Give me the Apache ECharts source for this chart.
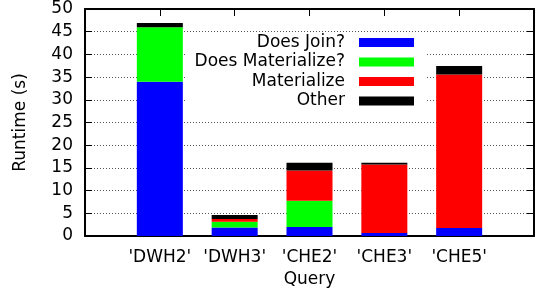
<!DOCTYPE html>
<html>
<head>
<meta charset="utf-8">
<script src="https://cdn.jsdelivr.net/npm/echarts@6/dist/echarts.min.js"></script>
<style>
  html, body { margin: 0; padding: 0; background: #fff; }
  #chart { width: 537px; height: 297px; }
</style>
</head>
<body>
<div id="chart"></div>
<script>
// queries on the x axis
const queries = ["'DWH2'", "'DWH3'", "'CHE2'", "'CHE3'", "'CHE5'"];

// runtime parts in seconds, stacked bottom to top
const doesJoin        = [34.0, 1.85, 2.0, 0.66, 1.77];
const doesMaterialize = [12.0, 1.3, 5.74, 0, 0];
const materialize     = [0, 0.6, 6.7, 15.1, 33.8];
const other           = [0.9, 0.9, 1.7, 0.35, 1.9];

const yTicks = { min: 0, max: 50, step: 5 };

const font = 'DejaVu Sans';
const txt = { fontFamily: font, fontSize: 17, color: '#000' };

const chart = echarts.init(document.getElementById('chart'));

// gnuplot leaves one empty slot on each side of the bars
const cats = ['', ...queries, ''];
const pad = arr => [null, ...arr, null];

const mkSeries = (name, arr, color) => ({
    name,
    type: 'bar',
    stack: 'total',
    data: pad(arr),
    barWidth: 46,
    itemStyle: { color },
    z: 3
});

const frameLine = { show: true, onZero: false, lineStyle: { color: '#000', width: 2 } };
const frameTick = { show: true, inside: true, length: 7, lineStyle: { color: '#000' } };

const option = {
    animation: false,
    backgroundColor: '#fff',
    textStyle: { fontFamily: font },
    grid: { left: 85, right: -1, top: 9, bottom: 61, containLabel: false },
    xAxis: [
        {
            type: 'category',
            data: cats,
            boundaryGap: false,
            position: 'bottom',
            name: 'Query',
            nameLocation: 'middle',
            nameGap: 35,
            nameTextStyle: txt,
            axisLine: frameLine,
            axisTick: { ...frameTick, interval: 0 },
            axisLabel: { ...txt, margin: 13, interval: 0 },
            splitLine: { show: false }
        },
        {
            type: 'category',
            data: cats,
            boundaryGap: false,
            position: 'top',
            axisLine: frameLine,
            axisTick: { ...frameTick, interval: 0 },
            axisLabel: { show: false },
            splitLine: { show: false }
        }
    ],
    yAxis: [
        {
            type: 'value',
            min: yTicks.min,
            max: yTicks.max,
            interval: yTicks.step,
            position: 'left',
            name: 'Runtime (s)',
            nameLocation: 'middle',
            nameGap: 56,
            nameTextStyle: txt,
            axisLine: frameLine,
            axisTick: frameTick,
            axisLabel: { ...txt, margin: 12 },
            splitLine: {
                show: true,
                lineStyle: { color: '#555', width: 1, type: [1, 2] }
            }
        },
        {
            type: 'value',
            min: yTicks.min,
            max: yTicks.max,
            interval: yTicks.step,
            position: 'right',
            axisLine: frameLine,
            axisTick: frameTick,
            axisLabel: { show: false },
            splitLine: { show: false }
        }
    ],
    legend: {
        orient: 'vertical',
        align: 'right',
        right: 112,
        top: 33,
        padding: [1, 11, 2, 9],
        backgroundColor: '#fff',
        itemWidth: 55,
        itemHeight: 9,
        itemGap: 2.5,
        icon: 'rect',
        selectedMode: false,
        textStyle: { ...txt, lineHeight: 17, padding: [0, 9, 0, 0] },
        data: ['Does Join?', 'Does Materialize?', 'Materialize', 'Other'],
        z: 10
    },
    series: [
        mkSeries('Does Join?', doesJoin, '#0000ff'),
        mkSeries('Does Materialize?', doesMaterialize, '#00ff00'),
        mkSeries('Materialize', materialize, '#ff0000'),
        mkSeries('Other', other, '#000000')
    ]
};

chart.setOption(option);
</script>
</body>
</html>
